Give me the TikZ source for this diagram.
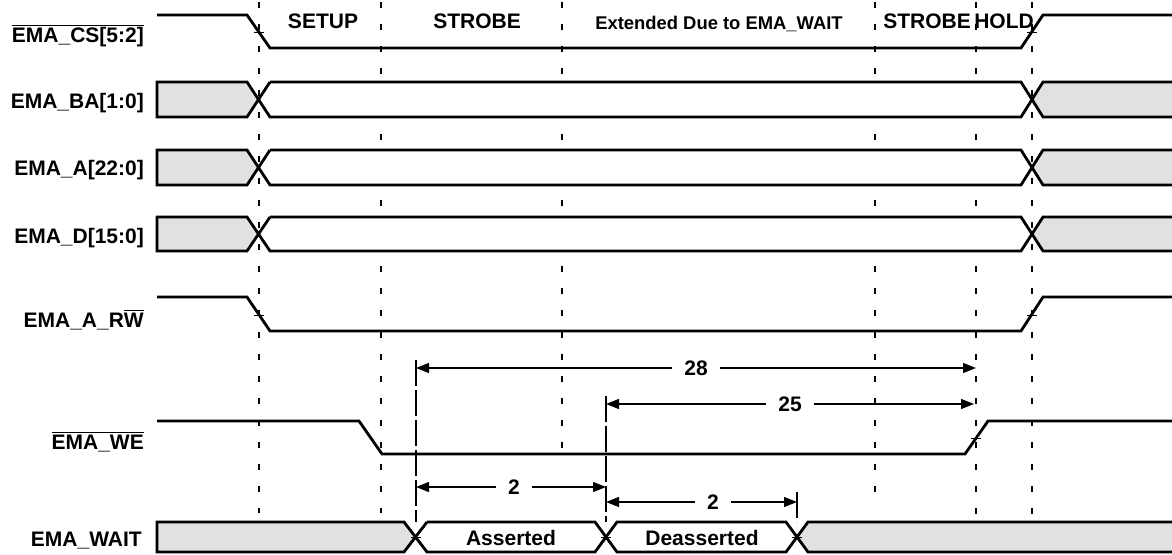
\documentclass[tikz,border=0pt]{standalone}
\usepackage{fontspec}
\setmainfont{Liberation Sans}
\usetikzlibrary{arrows.meta}
\definecolor{busgray}{RGB}{224,225,227}
\newcommand{\myovl}[1]{\setbox0\hbox{#1}\rlap{\rule[\dimexpr\ht0+1.2pt\relax]{\wd0}{1.3pt}}\box0}
\newcommand{\busrow}[2]{%
  \pgfmathsetmacro\ym{(#1+#2)/2}
  \fill[busgray] (157,#1) -- (247,#1) -- (258.5,\ym) -- (247,#2) -- (157,#2) -- cycle;
  \fill[white] (258.5,\ym) -- (270,#1) -- (1021,#1) -- (1032,\ym) -- (1021,#2) -- (270,#2) -- cycle;
  \fill[busgray] (1032,\ym) -- (1043,#1) -- (1173,#1) -- (1173,#2) -- (1043,#2) -- cycle;
  \draw[sig] (270,#1) -- (247,#2) -- (157,#2) -- (157,#1) -- (247,#1) -- (270,#2) -- (1021,#2) -- (1043,#1) -- (1173,#1);
  \draw[sig] (270,#1) -- (1021,#1) -- (1043,#2) -- (1173,#2);
}
\begin{document}
\begin{tikzpicture}[x=1pt,y=-1pt,
  sig/.style={line width=2.8pt},
  gridline/.style={line width=1.2pt, dash pattern=on 6pt off 16pt},
  extline/.style={line width=1.2pt, dash pattern=on 26pt off 4pt},
  dimline/.style={line width=1.3pt, {Triangle[length=13pt,width=10pt]}-{Triangle[length=13pt,width=10pt]}},
  lbl/.style={font=\bfseries\fontsize{21}{25}\selectfont, anchor=base east, inner sep=0pt},
  hdr/.style={font=\bfseries\fontsize{21}{25}\selectfont, anchor=base, inner sep=0pt},
  num/.style={font=\bfseries\fontsize{21}{25}\selectfont, fill=white, inner xsep=12pt, inner ysep=1pt},
  tickmark/.style={line width=1pt}]
\useasboundingbox (0,0) rectangle (1172,554);

% vertical dashed timing lines
\foreach \x/\yb in {259/513,381/513,562/454,875/507,976/522,1032/522}
  \draw[gridline] (\x,2) -- (\x,\yb);
\draw[extline] (416,360) -- (416,522);
\draw[extline] (606,396) -- (606,522);
\draw[extline] (797,492) -- (797,522);

% header labels
\node[hdr] (hsetup) at (323,28) {SETUP};
\node[hdr] (hstrobe) at (477,28) {STROBE};
\node[hdr, font=\bfseries\fontsize{18.4}{22}\selectfont] (hext) at (719,29) {Extended Due to EMA\_WAIT};
\node[hdr] (hstrobe2) at (927,28) {STROBE};
\node[hdr] (hhold) at (1004,28) {HOLD};

% signal labels
\node[lbl] (lcs) at (144,42.5) {\myovl{EMA\_CS[5:2]}};
\node[lbl] (lba) at (144,108) {EMA\_BA[1:0]};
\node[lbl] (la) at (144,175.5) {EMA\_A[22:0]};
\node[lbl] (ld) at (144,243) {EMA\_D[15:0]};
\node[lbl] (lrw) at (144,327) {EMA\_A\_R\myovl{W}};
\node[lbl] (lwe) at (144,449) {\myovl{EMA\_WE}};
\node[lbl] (lwait) at (142,546) {EMA\_WAIT};

% CS
\draw[sig] (157,15) -- (247,15) -- (270,48) -- (1021,48) -- (1043,15) -- (1173,15);
% buses
\busrow{82}{117}
\busrow{150}{185}
\busrow{217}{251}
% RW
\draw[sig] (157,297) -- (247,297) -- (270,331) -- (1021,331) -- (1043,297) -- (1173,297);
% WE
\draw[sig] (157,421) -- (359,421) -- (382,454) -- (965,454) -- (988,421) -- (1173,421);

% WAIT
\fill[busgray] (157,522) -- (404,522) -- (416,537) -- (404,552) -- (157,552) -- cycle;
\fill[white] (416,537) -- (427,522) -- (595,522) -- (606,537) -- (595,552) -- (427,552) -- cycle;
\fill[white] (606,537) -- (617,522) -- (786,522) -- (797,537) -- (786,552) -- (617,552) -- cycle;
\fill[busgray] (797,537) -- (808,522) -- (1173,522) -- (1173,552) -- (808,552) -- cycle;
\draw[sig] (427,522) -- (404,552) -- (157,552) -- (157,522) -- (404,522) -- (427,552) -- (595,552) -- (617,522) -- (786,522) -- (808,552) -- (1173,552);
\draw[sig] (427,552) -- (427,552);
\draw[sig] (427,522) -- (595,522) -- (617,552) -- (786,552) -- (808,522) -- (1173,522);
\node[hdr] (tass) at (511,545) {Asserted};
\node[hdr] (tdeass) at (702,545) {Deasserted};

% crossing tick marks
\foreach \x/\y in {259/32,259/315,1032/32,1032/315,976/438,416/537,606/537,797/537}
  \draw[tickmark] (\x-5,\y) -- (\x+5,\y);

% dimension arrows
\coordinate (a28l) at (416,368); \coordinate (a28r) at (976,368);
\coordinate (a25l) at (606,404); \coordinate (a25r) at (974,404);
\coordinate (a2al) at (416,487); \coordinate (a2ar) at (606,487);
\coordinate (a2bl) at (606,502); \coordinate (a2br) at (797,502);
\draw[dimline] (a28l) -- node[num, pos=0.5] (n28) {28} (a28r);
\draw[dimline] (a25l) -- node[num, pos=0.5] (n25) {25} (a25r);
\draw[dimline] (a2al) -- node[num, pos=0.516] (n2a) {2} (a2ar);
\draw[dimline] (a2bl) -- node[num, pos=0.56] (n2b) {2} (a2br);
\end{tikzpicture}
\end{document}
